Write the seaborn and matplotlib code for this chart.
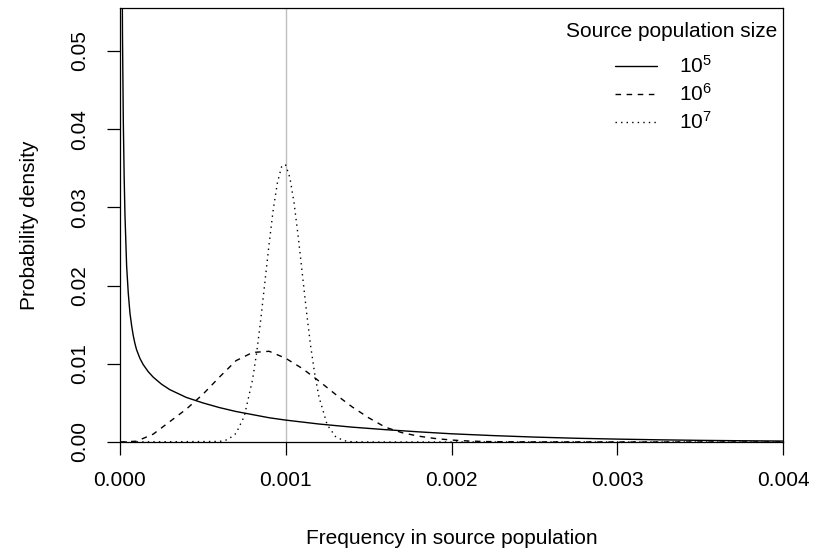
import pandas as pd
import seaborn as sns
import matplotlib
matplotlib.use("Agg")
import matplotlib.pyplot as plt

# values
freq_1e5 = [0.00001, 0.000015, 0.00002, 0.000025, 0.00003, 0.00004, 0.00005, 0.00006,
            0.00007, 0.00008, 0.00009, 0.0001, 0.00012, 0.00014, 0.00017, 0.0002,
            0.00025, 0.0003, 0.00035, 0.0004, 0.0005, 0.0006, 0.0007, 0.0008,
            0.0009, 0.001, 0.0012, 0.0014, 0.0016, 0.0018, 0.002, 0.00225, 0.0025,
            0.00275, 0.003, 0.00325, 0.0035, 0.00375, 0.004]
dens_1e5 = [0.075, 0.052, 0.041, 0.034, 0.029, 0.0225, 0.019, 0.0165,
            0.0149, 0.0136, 0.0126, 0.0118, 0.0107, 0.0099, 0.0090, 0.0083,
            0.0074, 0.0067, 0.0062, 0.0057, 0.0050, 0.0044, 0.0039, 0.0035,
            0.0031, 0.0028, 0.0023, 0.0019, 0.00158, 0.0013, 0.00105, 0.00082, 0.00063,
            0.00048, 0.00037, 0.00028, 0.00021, 0.00016, 0.00012]

freq_1e6 = [0.0, 0.0001, 0.0002, 0.0003, 0.0004, 0.0005, 0.0006, 0.0007, 0.0008,
            0.0009, 0.001, 0.0011, 0.0012, 0.0013, 0.0014, 0.0015, 0.0016, 0.0017,
            0.0018, 0.0019, 0.002, 0.0021, 0.0022, 0.0023, 0.0025, 0.003, 0.004]
dens_1e6 = [0.0, 0.0001, 0.0010, 0.0026, 0.0042, 0.0061, 0.0083, 0.0104, 0.01145,
            0.0116, 0.0107, 0.0094, 0.0078, 0.0061, 0.0045, 0.0031, 0.0019, 0.0012,
            0.00075, 0.00045, 0.00025, 0.00013, 0.00006, 0.00003, 0.00001, 0.0, 0.0]

freq_1e7 = [0.0, 0.0006, 0.00065, 0.0007, 0.00075, 0.0008, 0.000825, 0.00085,
            0.000875, 0.0009, 0.000925, 0.00095, 0.000975, 0.00099, 0.001,
            0.001025, 0.00105, 0.001075, 0.0011, 0.001125, 0.00115, 0.001175,
            0.0012, 0.00125, 0.0013, 0.00135, 0.0014, 0.0015, 0.004]
dens_1e7 = [0.0, 0.00007, 0.0003, 0.0011, 0.0033, 0.0080, 0.0115, 0.0158,
            0.0206, 0.0254, 0.0298, 0.0332, 0.0352, 0.0355, 0.0354,
            0.0338, 0.0306, 0.0263, 0.0215, 0.0167, 0.0123, 0.0087,
            0.0058, 0.0022, 0.0007, 0.00017, 0.00003, 0.0, 0.0]

pop_labels = [r"$10^5$", r"$10^6$", r"$10^7$"]
legend_title = "Source population size"
true_freq = 0.001

sns.set_style("ticks")
plt.rcParams["font.family"] = ["Liberation Sans", "DejaVu Sans"]
plt.rcParams["mathtext.fontset"] = "custom"
plt.rcParams["mathtext.rm"] = "Liberation Sans"
plt.rcParams["mathtext.it"] = "Liberation Sans:italic"
plt.rcParams["mathtext.default"] = "regular"
plt.rcParams["text.color"] = "black"
plt.rcParams["axes.labelcolor"] = "black"

fig = plt.figure(figsize=(8.14, 5.56), dpi=100)
ax = fig.add_axes([120 / 814, 1 - 442 / 556, 663 / 814, 434 / 556])

ax.axvline(true_freq, color="#BEBEBE", lw=1.0, zorder=1)

series = [(freq_1e5, dens_1e5, "-"), (freq_1e6, dens_1e6, (0, (4, 4))),
          (freq_1e7, dens_1e7, (0, (1, 3)))]
for (fx, fy, ls), lab in zip(series, pop_labels):
    df = pd.DataFrame({"freq": fx, "dens": fy})
    sns.lineplot(data=df, x="freq", y="dens", ax=ax, color="black", lw=1.0,
                 linestyle=ls, label=lab, estimator=None, sort=False)

ax.set_xlim(0, 0.004)
ax.set_ylim(0, 0.0555)
ax.set_xticks([0.0, 0.001, 0.002, 0.003, 0.004])
ax.set_xticklabels(["0.000", "0.001", "0.002", "0.003", "0.004"])
ax.set_yticks([0.0, 0.01, 0.02, 0.03, 0.04, 0.05])
ax.set_yticklabels(["0.00", "0.01", "0.02", "0.03", "0.04", "0.05"],
                   rotation=90, va="center")
ax.tick_params(axis="both", direction="out", length=9.5, width=0.9,
               labelsize=15, color="black", labelcolor="black")
ax.tick_params(axis="x", pad=11.5)
ax.tick_params(axis="y", pad=13)
for sp in ax.spines.values():
    sp.set_visible(True)
    sp.set_color("black")
    sp.set_linewidth(0.9)

ax.set_xlabel("Frequency in source population", fontsize=15, labelpad=28)
ax.set_ylabel("Probability density", fontsize=15, labelpad=22)

# legend title drawn on its own, R style spacing
ax.text(0.991, 0.9467, legend_title, transform=ax.transAxes, ha="right",
        va="center", fontsize=15)
leg = ax.legend(loc="upper left", bbox_to_anchor=(0.7466, 0.8917),
                frameon=False, fontsize=15, handlelength=2.0,
                handletextpad=1.05, labelspacing=0.3, borderaxespad=0.0,
                borderpad=0.0)
for h in leg.legend_handles:
    h.set_color("black")

fig.savefig("out.png", dpi=100)
